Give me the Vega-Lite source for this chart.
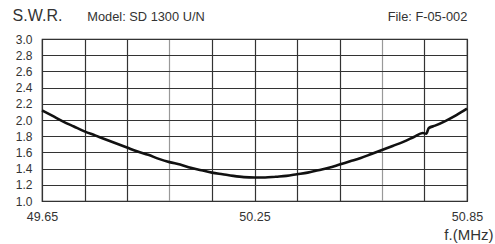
{
  "$schema": "https://vega.github.io/schema/vega-lite/v6.json",
  "width": 425,
  "height": 162,
  "autosize": {"type": "none"},
  "padding": {"left": 42, "top": 39, "right": 28, "bottom": 43},
  "background": "white",
  "config": {
    "view": {"stroke": "#222", "strokeWidth": 1.2},
    "font": "Liberation Sans"
  },
  "resolve": {"axis": {"x": "independent", "y": "independent"}},
  "layer": [
    {
      "data": {"values": [
        {"f": 49.65, "swr": 2.12}, {"f": 49.68, "swr": 2.05}, {"f": 49.71, "swr": 1.98},
        {"f": 49.74, "swr": 1.92}, {"f": 49.77, "swr": 1.86}, {"f": 49.80, "swr": 1.81},
        {"f": 49.83, "swr": 1.76}, {"f": 49.86, "swr": 1.71}, {"f": 49.89, "swr": 1.66},
        {"f": 49.92, "swr": 1.61}, {"f": 49.95, "swr": 1.57}, {"f": 49.98, "swr": 1.52},
        {"f": 50.01, "swr": 1.48}, {"f": 50.04, "swr": 1.45}, {"f": 50.07, "swr": 1.41},
        {"f": 50.10, "swr": 1.38}, {"f": 50.13, "swr": 1.35}, {"f": 50.16, "swr": 1.33},
        {"f": 50.19, "swr": 1.31}, {"f": 50.22, "swr": 1.295}, {"f": 50.25, "swr": 1.29},
        {"f": 50.28, "swr": 1.29}, {"f": 50.31, "swr": 1.30}, {"f": 50.34, "swr": 1.31},
        {"f": 50.37, "swr": 1.33}, {"f": 50.40, "swr": 1.35}, {"f": 50.43, "swr": 1.38},
        {"f": 50.46, "swr": 1.41}, {"f": 50.49, "swr": 1.45}, {"f": 50.52, "swr": 1.49},
        {"f": 50.55, "swr": 1.53}, {"f": 50.58, "swr": 1.58}, {"f": 50.61, "swr": 1.63},
        {"f": 50.64, "swr": 1.68}, {"f": 50.67, "swr": 1.73}, {"f": 50.70, "swr": 1.79},
        {"f": 50.725, "swr": 1.84}, {"f": 50.735, "swr": 1.83}, {"f": 50.742, "swr": 1.90},
        {"f": 50.76, "swr": 1.93}, {"f": 50.79, "swr": 1.99}, {"f": 50.82, "swr": 2.06},
        {"f": 50.85, "swr": 2.14}
      ]},
      "mark": {"type": "line", "color": "#111", "strokeWidth": 2.6, "interpolate": "monotone"},
      "encoding": {
        "x": {
          "field": "f", "type": "quantitative",
          "scale": {"domain": [49.65, 50.85], "nice": false, "zero": false},
          "axis": {
            "values": [49.65, 49.77, 49.89, 50.01, 50.13, 50.25, 50.37, 50.49, 50.61, 50.73, 50.85],
            "labelExpr": "datum.value == 49.65 || datum.value == 50.25 || datum.value == 50.85 ? format(datum.value, '.2f') : ''",
            "grid": true,
            "gridColor": {"condition": {"test": "datum.value == 50.01 || datum.value == 50.61", "value": "#999"}, "value": "#333"},
            "gridWidth": 1.2,
            "gridOpacity": 1,
            "domain": false,
            "ticks": false,
            "labelPadding": 9,
            "labelFontSize": 12.5,
            "labelColor": "#333",
            "labelOverlap": false,
            "labelFlush": false,
            "labelBound": false,
            "title": "f.(MHz)",
            "titleFontSize": 15,
            "titleFontWeight": "normal",
            "titleColor": "#333",
            "titleAnchor": "end",
            "titleAlign": "right",
            "titleBaseline": "alphabetic",
            "titleX": 451,
            "titleY": 38
          }
        },
        "y": {
          "field": "swr", "type": "quantitative",
          "scale": {"domain": [1, 3], "nice": false, "zero": false},
          "axis": {
            "values": [1.0, 1.2, 1.4, 1.6, 1.8, 2.0, 2.2, 2.4, 2.6, 2.8, 3.0],
            "format": ".1f",
            "grid": true,
            "gridColor": "#333",
            "gridWidth": 1.2,
            "gridOpacity": 1,
            "domain": false,
            "ticks": false,
            "labelPadding": 10,
            "labelFontSize": 12,
            "labelColor": "#333",
            "labelOverlap": false,
            "labelFlush": false,
            "labelBound": false,
            "title": null
          }
        }
      }
    },
    {
      "data": {"values": [{"label": "S.W.R.", "f": 49.567, "swr": 3.228}]},
      "mark": {"type": "text", "align": "left", "baseline": "alphabetic", "fontSize": 16, "color": "#333"},
      "encoding": {
        "x": {"field": "f", "type": "quantitative", "axis": null},
        "y": {"field": "swr", "type": "quantitative", "axis": null},
        "text": {"field": "label"}
      }
    },
    {
      "data": {"values": [{"label": "Model:  SD 1300 U/N", "f": 49.778, "swr": 3.228}]},
      "mark": {"type": "text", "align": "left", "baseline": "alphabetic", "fontSize": 12.8, "color": "#333"},
      "encoding": {
        "x": {"field": "f", "type": "quantitative", "axis": null},
        "y": {"field": "swr", "type": "quantitative", "axis": null},
        "text": {"field": "label"}
      }
    },
    {
      "data": {"values": [{"label": "File:  F-05-002", "f": 50.851, "swr": 3.228}]},
      "mark": {"type": "text", "align": "right", "baseline": "alphabetic", "fontSize": 12.8, "color": "#333"},
      "encoding": {
        "x": {"field": "f", "type": "quantitative", "axis": null},
        "y": {"field": "swr", "type": "quantitative", "axis": null},
        "text": {"field": "label"}
      }
    }
  ]
}
